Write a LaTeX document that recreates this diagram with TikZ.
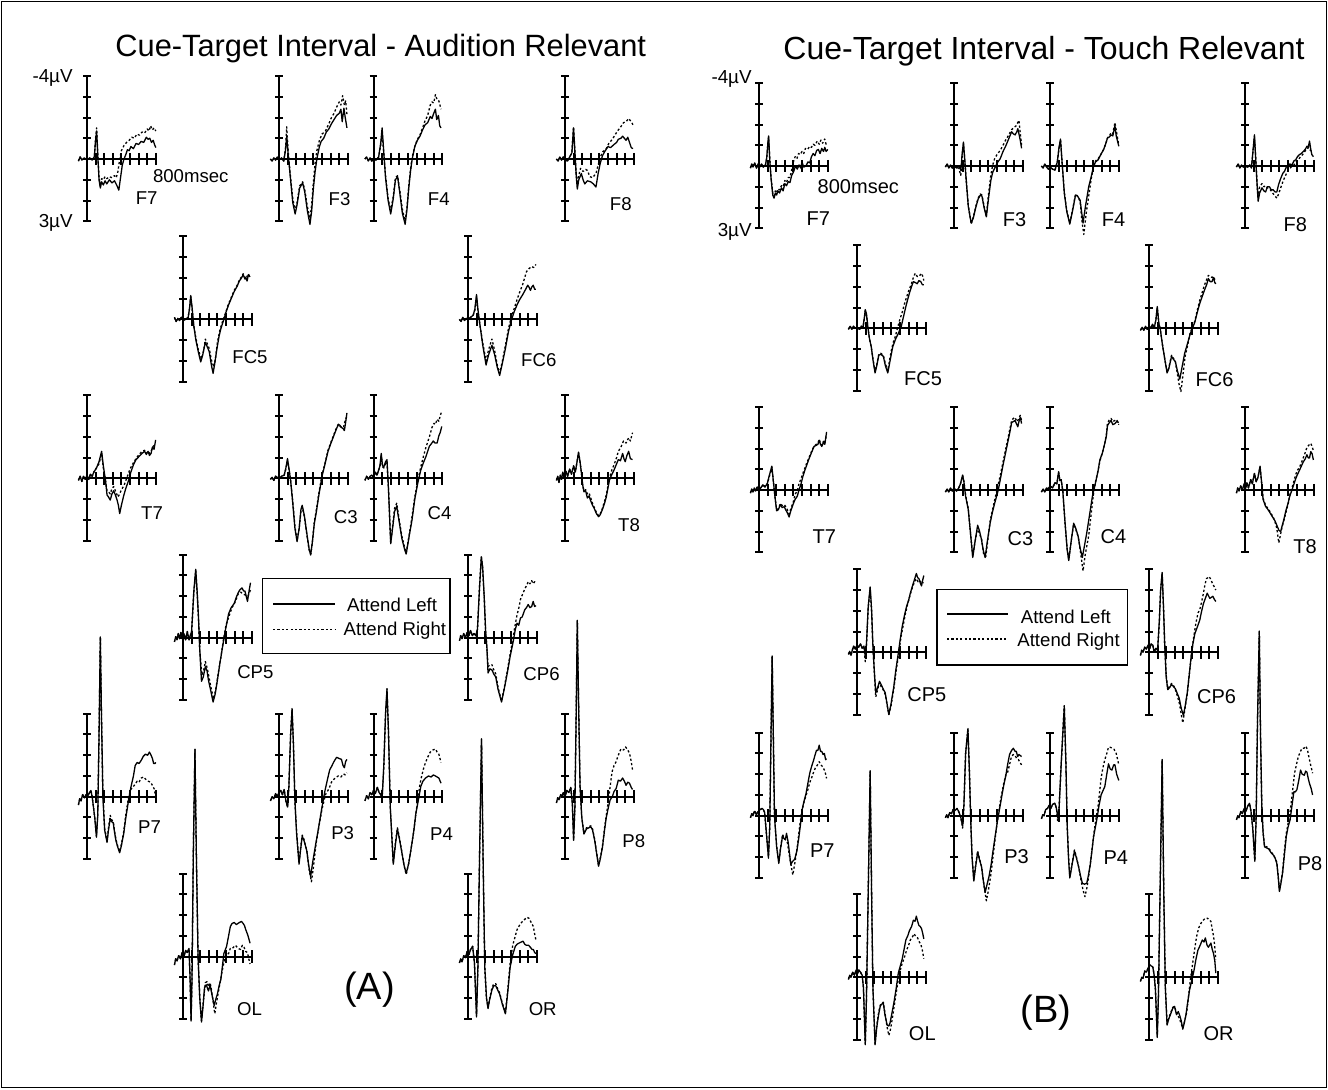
\documentclass[tikz,border=0pt]{standalone}
\usepackage{fontspec}
\setmainfont{Liberation Sans}

\tikzset{
  axisline/.style={line width=1pt},
  attleft/.style={line width=0.65pt, line join=round},
  attright/.style={line width=0.65pt, line join=round, dash pattern=on 1.1pt off 1.1pt},
  chanA/.style={inner sep=0pt, font=\fontsize{9.3}{10}\selectfont},
  chanB/.style={inner sep=0pt, font=\fontsize{10}{11}\selectfont},
  volt/.style={inner sep=0pt, anchor=base east, font=\fontsize{9.4}{10}\selectfont},
  keybox/.style={line width=0.7pt},
}

% one channel: axis origin, attend-left curve, attend-right curve
\newcommand{\erp}[4]{%
  \begin{scope}[shift={(#1,#2)}, xscale=8.6, yscale=20.75]
    \draw[axisline] (0,-4) -- (0,3);
    \foreach \vk in {-4,...,3}
      \draw[axisline] (-0.45,\vk) -- (0.45,\vk);
    \draw[axisline] (0,0) -- (8,0);
    \foreach \tk in {1,...,8}
      \draw[axisline] (\tk,-0.3) -- (\tk,0.3);
    \draw[attleft] plot coordinates {#3};
    \draw[attright] plot coordinates {#4};
  \end{scope}}

\begin{document}
\begin{tikzpicture}[x=0.5pt, y=-0.5pt]
\useasboundingbox (0,0) rectangle (1328,1089);
\draw[line width=0.8pt] (1.5,1.5) rectangle (1326.5,1087.5);

% ---------------- (A) audition relevant ----------------
\node[anchor=base west, inner sep=0pt, font=\fontsize{15.4}{17}\selectfont] (ttlA) at (115,56) {Cue-Target Interval - Audition Relevant};
\node[volt] (topA) at (73,82) {-4µV};
\node[volt] (botA) at (73,227) {3µV};
\node[chanA] (msA) at (190.8,175.8) {800msec};

% F7
\erp{87}{159}{(-1,0.1) (-0.8,-0.1) (-0.6,0.05) (-0.3,-0.05) (0,0.05) (0.3,-0.05) (0.6,0.05) (0.85,-0.1) (1.0,-0.9) (1.12,-1.35) (1.25,-0.2) (1.4,1.0) (1.55,1.4) (1.7,1.1) (1.9,1.25) (2.1,1.05) (2.3,1.2) (2.6,1.0) (2.9,1.15) (3.2,1.05) (3.5,1.3) (3.7,1.5) (3.9,0.9) (4.1,0.3) (4.3,0) (4.5,-0.2) (4.7,-0.45) (4.9,-0.4) (5.1,-0.6) (5.4,-0.5) (5.7,-0.75) (6.0,-0.7) (6.3,-0.85) (6.6,-0.8) (6.9,-1.05) (7.1,-0.95) (7.3,-1.0) (7.5,-0.8) (7.7,-0.9) (7.85,-0.7) (8.0,-0.55)}
{(-1,0.1) (-0.8,-0.1) (-0.6,0.05) (-0.3,-0.05) (0,0.05) (0.3,-0.05) (0.6,0.05) (0.85,-0.1) (1.0,-1.0) (1.12,-1.5) (1.25,-0.3) (1.4,0.9) (1.55,1.3) (1.7,0.95) (1.9,1.0) (2.1,0.85) (2.3,0.95) (2.6,0.85) (2.9,0.9) (3.2,0.8) (3.4,0.9) (3.6,0.6) (3.8,0.0) (4.0,-0.4) (4.3,-0.65) (4.6,-0.8) (4.9,-0.9) (5.2,-1.05) (5.5,-1.0) (5.8,-1.2) (6.1,-1.15) (6.4,-1.3) (6.7,-1.25) (7.0,-1.45) (7.2,-1.35) (7.4,-1.6) (7.6,-1.4) (7.8,-1.5) (8.0,-1.35)}
\node[chanA] (chF7a) at (146.7,198.3) {F7};

% F3
\erp{279}{159}{(-1,0) (-0.8,0.1) (-0.6,-0.05) (-0.4,0.05) (-0.2,-0.1) (0,0.05) (0.3,-0.05) (0.55,0.1) (0.75,-0.4) (0.9,-1.1) (1.05,-0.3) (1.3,0.8) (1.6,2.1) (1.88,2.65) (2.1,2.2) (2.4,1.4) (2.75,1.15) (3.0,1.6) (3.3,2.5) (3.6,3.15) (3.8,2.5) (4.0,1.4) (4.2,0.6) (4.4,0) (4.7,-0.6) (4.9,-0.85) (5.2,-1.0) (5.5,-1.3) (5.8,-1.45) (6.1,-1.7) (6.4,-1.9) (6.7,-2.1) (7.0,-2.2) (7.2,-2.4) (7.35,-1.8) (7.55,-2.45) (7.7,-2.0) (7.9,-1.5)}
{(-1,0) (-0.8,0.1) (-0.6,-0.05) (-0.4,0.05) (-0.2,-0.1) (0,0.05) (0.3,-0.05) (0.55,0.1) (0.75,-0.5) (0.9,-1.55) (1.05,-0.5) (1.3,0.7) (1.6,1.9) (1.88,2.5) (2.1,2.1) (2.4,1.3) (2.75,1.1) (3.0,1.5) (3.3,2.3) (3.6,2.85) (3.8,2.2) (4.0,1.1) (4.2,0.2) (4.4,-0.4) (4.7,-0.9) (5.0,-1.2) (5.4,-1.35) (5.8,-1.7) (6.1,-2.0) (6.4,-2.2) (6.7,-2.5) (7.0,-2.75) (7.2,-2.6) (7.4,-3.05) (7.6,-2.6) (7.75,-2.8) (7.9,-2.15)}
\node[chanA] (chF3a) at (339.6,199) {F3};

% F4
\erp{373.5}{159}{(-1,0) (-0.8,-0.1) (-0.6,0.1) (-0.4,-0.05) (-0.2,0.1) (0,0) (0.3,0.05) (0.6,-0.1) (0.85,-0.8) (1.0,-1.5) (1.15,-0.6) (1.4,0.9) (1.7,2.0) (2.0,2.65) (2.3,1.9) (2.55,1.0) (2.8,0.85) (3.05,1.6) (3.35,2.6) (3.68,3.15) (3.9,2.4) (4.1,1.4) (4.3,0.6) (4.5,0) (4.8,-0.6) (5.1,-0.9) (5.4,-1.1) (5.7,-1.4) (6.0,-1.65) (6.3,-1.75) (6.6,-2.05) (6.8,-1.95) (7.0,-2.2) (7.2,-2.4) (7.35,-1.9) (7.55,-2.1) (7.7,-1.6) (7.85,-1.5)}
{(-1,0) (-0.8,-0.1) (-0.6,0.1) (-0.4,-0.05) (-0.2,0.1) (0,0) (0.3,0.05) (0.6,-0.1) (0.85,-0.7) (1.0,-1.3) (1.15,-0.5) (1.4,0.8) (1.7,1.9) (2.0,2.5) (2.3,1.8) (2.55,0.9) (2.8,0.8) (3.05,1.5) (3.35,2.4) (3.68,3.0) (3.9,2.3) (4.1,1.3) (4.3,0.5) (4.5,-0.1) (4.8,-0.6) (5.1,-0.95) (5.4,-1.15) (5.7,-1.5) (6.0,-1.85) (6.3,-2.1) (6.6,-2.6) (6.8,-2.75) (7.0,-2.7) (7.2,-3.1) (7.4,-2.85) (7.6,-2.8) (7.85,-2.4)}
\node[chanA] (chF4a) at (438.8,199) {F4};

% F8
\erp{565}{159}{(-1,0) (-0.8,0.1) (-0.6,-0.1) (-0.4,0.05) (-0.2,-0.1) (0,0.05) (0.3,0.1) (0.55,-0.1) (0.8,-0.3) (0.99,-1.5) (1.15,-0.3) (1.3,0.8) (1.43,1.45) (1.6,1.0) (1.9,0.7) (2.1,1.0) (2.3,1.2) (2.6,1.05) (3.0,1.1) (3.3,1.2) (3.6,1.35) (3.85,0.7) (4.1,0.2) (4.35,-0.15) (4.6,-0.35) (5.0,-0.6) (5.3,-0.55) (5.7,-0.7) (6.0,-0.8) (6.2,-0.95) (6.5,-1.0) (6.7,-1.1) (6.9,-1.0) (7.1,-0.9) (7.3,-1.05) (7.5,-0.8) (7.7,-0.55) (7.9,-0.5)}
{(-1,0) (-0.8,0.1) (-0.6,-0.1) (-0.4,0.05) (-0.2,-0.1) (0,0.05) (0.3,0.1) (0.55,-0.1) (0.8,-0.3) (0.99,-1.55) (1.15,-0.4) (1.3,0.7) (1.43,1.2) (1.6,0.8) (1.8,0.45) (2.1,0.6) (2.4,0.5) (2.6,0.55) (2.9,0.85) (3.2,0.9) (3.6,0.7) (3.85,0.3) (4.1,-0.1) (4.4,-0.35) (4.8,-0.5) (5.1,-0.75) (5.5,-0.95) (5.8,-1.15) (6.1,-1.35) (6.4,-1.5) (6.8,-1.75) (7.1,-1.8) (7.4,-1.95) (7.7,-1.8) (7.9,-1.65)}
\node[chanA] (chF8a) at (620.8,204) {F8};

% FC5
\erp{183}{319.4}{(-1,-0.1) (-0.8,0.1) (-0.6,-0.05) (-0.4,0.05) (-0.2,-0.1) (0,0.05) (0.3,0) (0.6,-0.1) (0.75,-0.5) (0.9,-1.15) (1.05,-0.6) (1.25,0.3) (1.5,1.0) (1.8,1.6) (2.06,2.05) (2.3,1.7) (2.6,1.1) (2.8,1.3) (3.05,1.55) (3.3,2.2) (3.5,2.6) (3.7,2.1) (3.95,1.4) (4.2,0.8) (4.4,0.45) (4.75,0) (5.0,-0.35) (5.3,-0.7) (5.6,-1.0) (5.96,-1.35) (6.3,-1.6) (6.55,-1.85) (6.8,-2.0) (7.0,-2.15) (7.2,-1.95) (7.3,-2.0) (7.45,-1.85) (7.6,-2.15) (7.8,-2.05)}
{(-1,-0.1) (-0.8,0.1) (-0.6,-0.05) (-0.4,0.05) (-0.2,-0.1) (0,0.05) (0.3,0) (0.6,-0.1) (0.75,-0.5) (0.9,-1.1) (1.05,-0.55) (1.25,0.3) (1.5,0.9) (1.8,1.5) (2.15,1.9) (2.4,1.5) (2.6,0.95) (2.8,1.15) (3.05,1.4) (3.3,1.95) (3.6,2.3) (3.8,1.8) (4.0,1.1) (4.3,0.5) (4.6,0.1) (4.9,-0.25) (5.2,-0.65) (5.6,-1.05) (5.96,-1.4) (6.3,-1.65) (6.55,-1.9) (6.8,-2.05) (7.0,-2.2) (7.3,-1.95) (7.6,-2.2) (7.8,-2.0)}
\node[chanA] (chFC5a) at (250,357) {FC5};

% FC6
\erp{468}{319.4}{(-1,0) (-0.8,0.1) (-0.6,-0.1) (-0.4,0.05) (-0.2,-0.05) (0,0) (0.3,-0.1) (0.6,-0.2) (0.8,-0.5) (0.99,-1.2) (1.15,-0.5) (1.4,0.3) (1.7,1.2) (2.1,2.2) (2.4,1.7) (2.78,1.25) (3.1,1.7) (3.4,2.3) (3.68,2.7) (4.0,2.1) (4.35,1.4) (4.7,0.6) (5.0,0.1) (5.35,-0.35) (5.7,-0.7) (6.0,-0.95) (6.37,-1.2) (6.7,-1.45) (6.95,-1.65) (7.1,-1.55) (7.26,-1.4) (7.4,-1.55) (7.58,-1.65) (7.75,-1.45) (7.9,-1.45)}
{(-1,0) (-0.8,0.1) (-0.6,-0.1) (-0.4,0.05) (-0.2,-0.05) (0,0) (0.3,-0.1) (0.6,-0.2) (0.8,-0.45) (0.99,-1.1) (1.15,-0.4) (1.4,0.3) (1.7,1.1) (2.1,2.0) (2.4,1.45) (2.78,0.95) (3.1,1.5) (3.4,2.2) (3.68,2.6) (4.0,2.0) (4.35,1.25) (4.7,0.45) (5.0,-0.05) (5.35,-0.5) (5.7,-0.95) (6.0,-1.3) (6.37,-1.7) (6.8,-2.3) (7.1,-2.45) (7.4,-2.55) (7.65,-2.5) (7.9,-2.65)}
\node[chanA] (chFC6a) at (538.8,359.7) {FC6};

% T7
\erp{87}{478.3}{(-1,0.1) (-0.8,-0.1) (-0.6,0.15) (-0.4,-0.1) (-0.2,0.05) (0,-0.15) (0.2,0.05) (0.4,-0.2) (0.6,-0.1) (0.8,-0.3) (1.1,-0.5) (1.4,-0.8) (1.7,-1.3) (1.9,-0.6) (2.15,0.1) (2.33,0.8) (2.5,0.9) (2.7,1.05) (2.9,0.75) (3.1,0.6) (3.3,0.8) (3.5,1.05) (3.65,1.3) (3.8,1.7) (4.0,1.3) (4.26,0.85) (4.5,0.5) (4.84,0.1) (5.1,-0.3) (5.4,-0.65) (5.7,-0.9) (6.05,-1.05) (6.4,-1.2) (6.7,-1.3) (6.9,-1.15) (7.1,-1.3) (7.26,-1.1) (7.45,-1.2) (7.6,-1.5) (7.8,-1.4) (7.98,-1.85)}
{(-1,0.1) (-0.8,-0.1) (-0.6,0.15) (-0.4,-0.1) (-0.2,0.05) (0,-0.15) (0.2,0.05) (0.4,-0.2) (0.6,-0.1) (0.8,-0.3) (1.1,-0.5) (1.4,-0.7) (1.7,-1.2) (1.9,-0.5) (2.15,0.1) (2.33,0.6) (2.5,0.65) (2.7,0.75) (2.9,0.5) (3.1,0.4) (3.3,0.6) (3.6,0.9) (3.8,0.75) (4.0,0.55) (4.3,0.35) (4.7,-0.1) (5.0,-0.45) (5.4,-0.75) (5.7,-0.95) (6.05,-1.15) (6.4,-1.3) (6.7,-1.35) (6.9,-1.2) (7.1,-1.3) (7.3,-1.2) (7.5,-1.35) (7.7,-1.55) (7.9,-1.6)}
\node[chanA] (chT7a) at (152,513) {T7};

% C3
\erp{279}{478.3}{(-1,0.05) (-0.8,-0.05) (-0.6,0.1) (-0.4,-0.1) (-0.2,-0.05) (0,0.05) (0.3,-0.1) (0.6,-0.15) (0.8,-0.5) (0.99,-0.95) (1.15,-0.5) (1.35,0.1) (1.6,1.2) (1.85,2.4) (2.1,3.05) (2.35,2.4) (2.55,1.5) (2.7,1.3) (2.95,1.8) (3.25,2.7) (3.5,3.4) (3.68,3.7) (3.9,3.0) (4.1,2.2) (4.35,1.6) (4.6,0.9) (5.0,-0.1) (5.3,-0.6) (5.7,-1.3) (6.0,-1.65) (6.37,-2.05) (6.6,-2.3) (6.9,-2.6) (7.1,-2.55) (7.26,-2.45) (7.45,-2.4) (7.6,-2.3) (7.75,-2.7) (7.9,-3.15)}
{(-1,0.05) (-0.8,-0.05) (-0.6,0.1) (-0.4,-0.1) (-0.2,-0.05) (0,0.05) (0.3,-0.1) (0.6,-0.15) (0.8,-0.45) (0.99,-0.85) (1.15,-0.45) (1.35,0.1) (1.6,1.1) (1.85,2.3) (2.1,3.0) (2.35,2.4) (2.55,1.6) (2.7,1.4) (2.95,1.85) (3.25,2.75) (3.5,3.45) (3.7,3.65) (3.9,3.0) (4.1,2.1) (4.35,1.5) (4.6,0.8) (5.0,-0.15) (5.3,-0.65) (5.7,-1.35) (6.0,-1.7) (6.37,-2.1) (6.6,-2.35) (6.9,-2.6) (7.1,-2.5) (7.3,-2.45) (7.5,-2.45) (7.7,-2.8) (7.9,-3.0)}
\node[chanA] (chC3a) at (345.8,516.7) {C3};

% C4
\erp{373.5}{478.3}{(-1,0.1) (-0.8,-0.1) (-0.6,0.05) (-0.4,-0.1) (-0.2,-0.15) (0,-0.05) (0.2,-0.3) (0.4,-0.15) (0.6,-0.4) (0.75,-0.6) (0.9,-1.2) (1.05,-0.6) (1.2,-0.55) (1.4,-0.8) (1.57,-0.9) (1.75,0.6) (2.0,3.15) (2.25,2.3) (2.45,1.6) (2.7,1.35) (2.95,2.0) (3.3,2.9) (3.6,3.4) (3.8,3.65) (4.1,2.9) (4.48,2.0) (4.8,1.0) (5.16,0.2) (5.5,-0.4) (5.8,-0.75) (6.1,-1.05) (6.5,-1.55) (6.7,-1.65) (6.95,-1.8) (7.15,-1.7) (7.4,-1.7) (7.6,-2.05) (7.75,-2.2) (7.94,-2.5)}
{(-1,0.1) (-0.8,-0.1) (-0.6,0.05) (-0.4,-0.1) (-0.2,-0.15) (0,-0.05) (0.2,-0.3) (0.4,-0.15) (0.6,-0.4) (0.75,-0.55) (0.9,-1.1) (1.05,-0.55) (1.2,-0.5) (1.4,-0.7) (1.57,-0.8) (1.75,0.6) (2.0,3.1) (2.25,2.2) (2.45,1.45) (2.7,1.2) (2.95,1.9) (3.3,2.8) (3.6,3.3) (3.8,3.6) (4.1,2.85) (4.48,1.85) (4.8,0.9) (5.16,0.1) (5.5,-0.55) (5.8,-1.05) (6.1,-1.5) (6.5,-2.0) (6.8,-2.45) (7.04,-2.65) (7.2,-2.6) (7.4,-2.85) (7.6,-2.75) (7.75,-3.0) (7.94,-3.25)}
\node[chanA] (chC4a) at (439.6,513) {C4};

% T8
\erp{565}{478.3}{(-1,0.1) (-0.85,-0.1) (-0.7,0.2) (-0.55,-0.15) (-0.4,0.05) (-0.25,-0.3) (-0.1,0.0) (0.1,-0.35) (0.3,-0.1) (0.54,-0.45) (0.75,-0.2) (1.0,-0.6) (1.2,-0.3) (1.4,-0.8) (1.57,-1.25) (1.75,-0.8) (1.9,-0.3) (2.05,0.3) (2.2,0.65) (2.4,0.6) (2.6,0.95) (2.8,0.85) (3.0,1.1) (3.2,1.3) (3.4,1.45) (3.65,1.7) (3.9,1.85) (4.1,1.75) (4.35,1.5) (4.6,1.2) (4.8,0.9) (5.0,0.45) (5.16,0.1) (5.4,-0.15) (5.7,-0.4) (6.0,-0.7) (6.2,-0.9) (6.45,-0.85) (6.7,-1.2) (6.85,-0.95) (7.0,-0.8) (7.2,-1.1) (7.4,-1.3) (7.6,-0.95) (7.85,-0.9)}
{(-1,0.1) (-0.85,-0.1) (-0.7,0.2) (-0.55,-0.15) (-0.4,0.05) (-0.25,-0.3) (-0.1,0.0) (0.1,-0.35) (0.3,-0.1) (0.54,-0.45) (0.75,-0.2) (1.0,-0.6) (1.2,-0.3) (1.4,-0.8) (1.57,-1.25) (1.75,-0.8) (1.9,-0.3) (2.05,0.3) (2.2,0.6) (2.4,0.55) (2.6,0.75) (2.8,0.7) (3.0,0.95) (3.2,1.2) (3.4,1.4) (3.65,1.65) (3.9,1.8) (4.1,1.7) (4.35,1.45) (4.6,1.1) (4.8,0.8) (5.0,0.35) (5.2,-0.05) (5.45,-0.4) (5.7,-0.65) (6.0,-1.0) (6.2,-1.3) (6.5,-1.5) (6.8,-1.8) (7.1,-1.7) (7.4,-1.95) (7.6,-1.8) (7.85,-2.2)}
\node[chanA] (chT8a) at (629,525) {T8};

% CP5
\erp{183}{637.7}{(-1,0.2) (-0.85,-0.05) (-0.7,0.1) (-0.55,-0.2) (-0.4,0.05) (-0.25,-0.25) (-0.1,0.05) (0.1,-0.2) (0.3,0.1) (0.5,-0.3) (0.7,0.1) (0.85,-0.1) (1.0,-0.3) (1.25,-2.2) (1.48,-3.3) (1.65,-2.2) (1.8,-1.0) (1.95,0.6) (2.15,2.1) (2.35,1.9) (2.6,1.4) (2.8,1.6) (2.96,2.05) (3.2,2.5) (3.5,3.1) (3.75,2.7) (4.0,2.05) (4.3,1.2) (4.6,0.45) (4.9,-0.3) (5.3,-1.15) (5.6,-1.45) (5.96,-1.65) (6.2,-1.95) (6.4,-2.15) (6.6,-2.3) (6.86,-2.4) (7.05,-2.25) (7.2,-2.25) (7.35,-2.0) (7.5,-1.75) (7.7,-2.3) (7.85,-2.65)}
{(-1,0.2) (-0.85,-0.05) (-0.7,0.1) (-0.55,-0.2) (-0.4,0.05) (-0.25,-0.25) (-0.1,0.05) (0.1,-0.2) (0.3,0.1) (0.5,-0.3) (0.7,0.1) (0.85,-0.1) (1.0,-0.3) (1.25,-2.1) (1.48,-3.25) (1.65,-2.1) (1.8,-0.9) (1.95,0.6) (2.2,1.8) (2.4,1.6) (2.6,1.15) (2.8,1.45) (3.0,1.85) (3.2,2.3) (3.55,2.95) (3.8,2.5) (4.1,1.7) (4.4,0.95) (4.7,0.1) (5.0,-0.6) (5.4,-1.1) (5.7,-1.45) (6.1,-1.75) (6.4,-2.1) (6.7,-2.2) (7.0,-2.1) (7.3,-2.05) (7.55,-2.0) (7.85,-2.3)}
\node[chanA] (chCP5a) at (255.4,672) {CP5};

% CP6
\erp{468}{637.7}{(-1,0.15) (-0.85,-0.1) (-0.7,0.05) (-0.5,-0.2) (-0.3,0.0) (-0.1,-0.25) (0.1,-0.1) (0.3,-0.35) (0.5,-0.1) (0.7,-0.2) (0.9,-0.1) (1.1,-0.4) (1.35,-2.5) (1.55,-3.9) (1.7,-3.4) (1.88,-2.0) (2.05,-0.3) (2.2,0.5) (2.33,1.7) (2.55,1.5) (2.78,1.55) (3.0,1.75) (3.23,1.9) (3.5,2.5) (3.9,3.1) (4.2,2.5) (4.57,1.7) (4.9,0.9) (5.25,0.2) (5.5,-0.4) (5.7,-0.7) (5.9,-0.6) (6.1,-0.95) (6.3,-1.0) (6.6,-1.35) (6.8,-1.45) (7.0,-1.6) (7.2,-1.45) (7.4,-1.5) (7.58,-1.75) (7.75,-1.5) (7.9,-1.55)}
{(-1,0.15) (-0.85,-0.1) (-0.7,0.05) (-0.5,-0.2) (-0.3,0.0) (-0.1,-0.25) (0.1,-0.1) (0.3,-0.35) (0.5,-0.1) (0.7,-0.2) (0.9,-0.1) (1.1,-0.4) (1.35,-2.5) (1.55,-3.9) (1.7,-3.4) (1.88,-2.0) (2.05,-0.3) (2.2,0.5) (2.33,1.4) (2.55,1.3) (2.78,1.3) (3.0,1.55) (3.23,1.75) (3.5,2.4) (3.9,3.05) (4.2,2.45) (4.57,1.6) (4.9,0.8) (5.25,-0.05) (5.5,-0.65) (5.7,-1.1) (5.95,-1.5) (6.1,-1.85) (6.35,-2.1) (6.6,-2.35) (6.85,-2.55) (7.0,-2.7) (7.2,-2.6) (7.4,-2.75) (7.6,-2.6) (7.75,-2.7) (7.9,-2.6)}
\node[chanA] (chCP6a) at (541.5,674) {CP6};

% P7
\erp{87}{796.7}{(-1,0.4) (-0.85,0.1) (-0.7,0.2) (-0.5,-0.1) (-0.3,0.05) (-0.1,-0.1) (0.1,-0.05) (0.3,-0.2) (0.45,-0.3) (0.6,0.0) (0.75,0.5) (0.9,1.0) (1.1,1.95) (1.25,0.9) (1.4,-3.0) (1.55,-7.7) (1.68,-4.0) (1.85,0.0) (2.05,1.6) (2.33,2.2) (2.5,1.6) (2.7,1.05) (2.85,1.2) (3.05,1.25) (3.2,1.7) (3.36,2.1) (3.55,2.4) (3.8,2.7) (4.0,2.35) (4.26,1.8) (4.5,1.05) (4.84,0.15) (5.1,-0.45) (5.4,-1.0) (5.6,-1.5) (5.83,-1.65) (6.05,-1.6) (6.3,-1.75) (6.55,-1.95) (6.8,-2.05) (7.05,-2.0) (7.26,-2.15) (7.45,-2.0) (7.6,-1.85) (7.75,-1.6) (7.9,-1.6) (8.0,-1.65)}
{(-1,0.4) (-0.85,0.1) (-0.7,0.2) (-0.5,-0.1) (-0.3,0.05) (-0.1,-0.1) (0.1,-0.05) (0.3,-0.2) (0.45,-0.3) (0.6,0.0) (0.75,0.5) (0.9,1.0) (1.1,1.9) (1.25,0.9) (1.4,-3.0) (1.55,-7.7) (1.68,-4.0) (1.85,0.0) (2.05,1.5) (2.33,2.15) (2.5,1.5) (2.7,0.9) (2.85,1.1) (3.05,1.2) (3.2,1.65) (3.36,2.05) (3.55,2.35) (3.8,2.65) (4.0,2.3) (4.26,1.7) (4.5,0.9) (4.84,0.0) (5.1,-0.35) (5.4,-0.5) (5.6,-0.6) (5.83,-0.75) (6.05,-0.7) (6.3,-0.9) (6.6,-0.95) (6.8,-0.85) (7.1,-0.75) (7.4,-0.7) (7.6,-0.55) (7.85,-0.35) (8.0,0.15)}
\node[chanA] (chP7a) at (149.6,826.7) {P7};

% P3
\erp{279}{796.7}{(-1,0.2) (-0.8,0.0) (-0.6,0.1) (-0.4,-0.15) (-0.2,0.0) (0,-0.2) (0.2,-0.3) (0.4,-0.1) (0.6,-0.35) (0.8,0.2) (1.0,0.5) (1.15,-0.5) (1.35,-3.0) (1.52,-4.25) (1.68,-2.5) (1.85,0.2) (2.05,1.8) (2.33,3.25) (2.5,2.6) (2.7,1.9) (2.9,2.1) (3.23,2.6) (3.45,3.3) (3.68,3.85) (3.9,3.2) (4.2,2.45) (4.6,1.5) (5.0,0.5) (5.35,-0.3) (5.7,-0.95) (5.9,-1.3) (6.1,-1.45) (6.4,-1.7) (6.7,-1.9) (6.95,-1.85) (7.26,-1.8) (7.45,-1.5) (7.6,-1.4) (7.75,-1.7) (7.9,-1.8)}
{(-1,0.2) (-0.8,0.0) (-0.6,0.1) (-0.4,-0.15) (-0.2,0.0) (0,-0.2) (0.2,-0.3) (0.4,-0.1) (0.6,-0.35) (0.8,0.2) (1.0,0.5) (1.15,-0.5) (1.35,-3.0) (1.52,-4.2) (1.68,-2.5) (1.85,0.2) (2.05,1.7) (2.33,3.2) (2.5,2.5) (2.7,1.85) (2.9,2.05) (3.23,2.6) (3.5,3.5) (3.77,4.1) (4.0,3.4) (4.3,2.3) (4.65,1.4) (5.0,0.6) (5.4,-0.1) (5.83,-0.4) (6.1,-0.7) (6.4,-0.85) (6.7,-0.95) (6.9,-1.0) (7.2,-0.95) (7.5,-1.1) (7.7,-1.05) (7.9,-1.15)}
\node[chanA] (chP3a) at (342.7,832.7) {P3};

% P4
\erp{373.5}{796.7}{(-1,0.2) (-0.8,-0.05) (-0.6,0.1) (-0.4,-0.2) (-0.2,-0.1) (0,-0.3) (0.2,-0.15) (0.45,-0.45) (0.65,-0.2) (0.85,-0.1) (1.0,0.1) (1.2,-1.5) (1.4,-4.0) (1.57,-5.2) (1.75,-3.0) (1.95,0.5) (2.3,3.25) (2.55,2.3) (2.78,1.55) (3.0,2.0) (3.3,2.7) (3.55,3.3) (3.8,3.7) (4.1,3.2) (4.45,2.3) (4.7,1.6) (4.93,0.8) (5.2,0.2) (5.5,-0.5) (5.75,-0.75) (6.05,-0.9) (6.4,-1.0) (6.7,-0.95) (6.95,-1.05) (7.2,-1.0) (7.4,-0.95) (7.6,-0.9) (7.85,-0.65)}
{(-1,0.2) (-0.8,-0.05) (-0.6,0.1) (-0.4,-0.2) (-0.2,-0.1) (0,-0.3) (0.2,-0.15) (0.45,-0.45) (0.65,-0.2) (0.85,-0.1) (1.0,0.1) (1.2,-1.5) (1.4,-4.0) (1.57,-5.2) (1.75,-3.0) (1.95,0.5) (2.3,3.2) (2.55,2.2) (2.78,1.5) (3.0,1.95) (3.3,2.65) (3.55,3.3) (3.8,3.75) (4.1,3.2) (4.45,2.3) (4.7,1.6) (4.93,0.8) (5.2,0.0) (5.4,-0.6) (5.6,-1.0) (5.85,-1.4) (6.05,-1.65) (6.3,-1.9) (6.6,-2.15) (6.9,-2.25) (7.2,-2.3) (7.4,-2.15) (7.6,-2.05) (7.85,-1.65)}
\node[chanA] (chP4a) at (441.5,834) {P4};

% P8
\erp{565}{796.7}{(-1,0.3) (-0.85,0.05) (-0.7,0.15) (-0.5,-0.1) (-0.35,0.0) (-0.2,-0.2) (0,0.0) (0.2,-0.3) (0.45,-0.2) (0.67,-0.45) (0.85,0.3) (1.0,2.1) (1.15,0.5) (1.3,-4.0) (1.43,-8.5) (1.58,-4.5) (1.75,-0.5) (1.95,1.0) (2.2,1.8) (2.5,1.55) (2.75,1.5) (3.0,1.45) (3.2,1.6) (3.45,2.1) (3.7,2.8) (3.9,3.35) (4.1,3.0) (4.35,2.45) (4.6,1.6) (4.8,1.0) (5.05,0.5) (5.25,0.15) (5.5,0.0) (5.7,-0.25) (5.95,-0.4) (6.2,-0.8) (6.45,-0.75) (6.7,-0.9) (6.9,-0.75) (7.1,-0.55) (7.3,-0.7) (7.5,-0.65) (7.7,-0.45) (7.85,-0.35)}
{(-1,0.3) (-0.85,0.05) (-0.7,0.15) (-0.5,-0.1) (-0.35,0.0) (-0.2,-0.2) (0,0.0) (0.2,-0.3) (0.45,-0.2) (0.67,-0.45) (0.85,0.3) (1.0,2.05) (1.15,0.5) (1.3,-4.0) (1.43,-8.5) (1.58,-4.5) (1.75,-0.5) (1.95,1.0) (2.2,1.75) (2.5,1.5) (2.75,1.45) (3.0,1.4) (3.2,1.55) (3.45,2.05) (3.7,2.75) (3.9,3.3) (4.1,2.95) (4.35,2.4) (4.6,1.5) (4.8,0.9) (5.05,0.2) (5.25,-0.5) (5.47,-1.2) (5.7,-1.5) (5.9,-1.65) (6.2,-2.0) (6.5,-2.3) (6.8,-2.25) (7.04,-2.4) (7.3,-2.25) (7.5,-2.1) (7.7,-1.7) (7.85,-1.3)}
\node[chanA] (chP8a) at (633.8,840.7) {P8};

% OL
\erp{183}{956.7}{(-1,0.4) (-0.85,0.1) (-0.7,0.2) (-0.5,-0.05) (-0.3,0.1) (-0.1,-0.2) (0.1,0.0) (0.3,-0.3) (0.5,-0.2) (0.7,-0.4) (0.82,1.0) (0.94,3.1) (1.05,1.0) (1.2,-5.0) (1.39,-10.0) (1.55,-5.0) (1.75,0.0) (1.95,2.0) (2.15,3.15) (2.35,2.3) (2.5,1.5) (2.7,1.35) (2.96,1.65) (3.15,1.35) (3.35,1.8) (3.63,2.35) (3.85,2.0) (4.0,1.8) (4.2,1.4) (4.4,1.1) (4.6,0.4) (4.75,-0.15) (5.07,-0.5) (5.3,-1.0) (5.5,-1.45) (5.7,-1.6) (5.96,-1.65) (6.2,-1.55) (6.55,-1.65) (6.8,-1.7) (7.0,-1.6) (7.15,-1.5) (7.3,-1.3) (7.53,-1.05) (7.8,-0.65)}
{(-1,0.4) (-0.85,0.1) (-0.7,0.2) (-0.5,-0.05) (-0.3,0.1) (-0.1,-0.2) (0.1,0.0) (0.3,-0.3) (0.5,-0.2) (0.7,-0.4) (0.82,1.0) (0.94,3.05) (1.05,1.0) (1.2,-5.0) (1.39,-10.0) (1.55,-5.0) (1.75,0.0) (1.95,2.0) (2.15,3.1) (2.35,2.2) (2.6,1.25) (2.8,1.2) (2.96,1.45) (3.15,1.25) (3.35,1.7) (3.7,2.75) (3.9,2.2) (4.2,1.5) (4.5,0.8) (4.75,0.3) (5.0,-0.1) (5.3,-0.15) (5.5,-0.4) (5.74,-0.4) (6.1,-0.55) (6.4,-0.4) (6.7,-0.35) (6.9,-0.55) (7.1,-0.45) (7.3,-0.25) (7.5,-0.2) (7.65,0.1) (7.8,0.35)}
\node[chanA] (chOLa) at (249.6,1009) {OL};

% OR
\erp{468}{956.7}{(-1,0.3) (-0.85,0.1) (-0.7,0.25) (-0.5,-0.05) (-0.3,0.05) (-0.1,-0.25) (0.1,-0.1) (0.3,-0.35) (0.54,-0.5) (0.75,0.3) (0.99,2.9) (1.15,0.5) (1.35,-5.0) (1.57,-10.5) (1.78,-4.0) (1.95,0.5) (2.15,2.0) (2.33,2.5) (2.5,2.1) (2.78,1.6) (3.0,1.4) (3.23,1.4) (3.45,1.6) (3.68,1.8) (4.0,2.3) (4.35,2.75) (4.6,1.8) (4.9,0.5) (5.2,-0.1) (5.5,-0.5) (5.7,-0.6) (5.9,-0.65) (6.15,-0.7) (6.4,-0.75) (6.6,-0.6) (6.8,-0.55) (7.05,-0.55) (7.26,-0.45) (7.45,-0.35) (7.6,-0.35) (7.75,-0.2) (7.9,-0.15)}
{(-1,0.3) (-0.85,0.1) (-0.7,0.25) (-0.5,-0.05) (-0.3,0.05) (-0.1,-0.25) (0.1,-0.1) (0.3,-0.35) (0.54,-0.5) (0.75,0.3) (0.99,2.85) (1.15,0.5) (1.35,-5.0) (1.57,-10.5) (1.78,-4.0) (1.95,0.5) (2.15,2.0) (2.33,2.45) (2.5,2.05) (2.78,1.5) (3.0,1.3) (3.23,1.3) (3.45,1.55) (3.68,1.75) (4.0,2.25) (4.35,2.7) (4.6,1.7) (4.9,0.3) (5.2,-0.55) (5.5,-1.0) (5.7,-1.3) (5.9,-1.45) (6.1,-1.6) (6.35,-1.7) (6.6,-1.8) (6.85,-1.9) (7.1,-1.85) (7.35,-1.65) (7.6,-1.45) (7.75,-1.1) (7.9,-0.8)}
\node[chanA] (chORa) at (542.7,1009) {OR};

% key A
\draw[keybox] (262.5,578.5) rectangle (450,653.5);
\coordinate (kA1) at (273,604);
\coordinate (kA2) at (335,604);
\coordinate (kA3) at (273,629.5);
\coordinate (kA4) at (335,629.5);
\draw[attleft] (kA1) -- (kA2);
\draw[attright] (kA3) -- (kA4);
\node[chanA, anchor=base west] (keyLa) at (346.7,611.5) {Attend Left};
\node[chanA, anchor=base west] (keyRa) at (343.3,635.5) {Attend Right};

\node[inner sep=0pt, font=\fontsize{19}{21}\selectfont] (tagA) at (369.6,990) {(A)};

% ---------------- (B) touch relevant ----------------
\node[anchor=base west, inner sep=0pt, font=\fontsize{16}{18}\selectfont] (ttlB) at (783,59) {Cue-Target Interval - Touch Relevant};
\node[volt] (topB) at (752,83.5) {-4µV};
\node[volt] (botB) at (752,236) {3µV};
\node[chanB] (msB) at (858.3,186.7) {800msec};

% F7
\erp{759}{166}{(-1,0.1) (-0.85,-0.1) (-0.7,0.05) (-0.5,-0.15) (-0.3,0.1) (-0.1,-0.1) (0.1,0.05) (0.3,-0.1) (0.5,0.05) (0.75,-0.05) (0.9,-0.4) (1.05,-1.2) (1.12,-1.45) (1.25,-0.3) (1.4,0.6) (1.6,1.4) (1.75,1.55) (1.9,1.3) (2.05,1.4) (2.2,1.2) (2.4,1.3) (2.6,1.05) (2.8,1.2) (3.0,0.85) (3.2,0.95) (3.4,0.75) (3.6,0.8) (3.8,0.45) (4.0,0.3) (4.24,0.0) (4.45,0.15) (4.65,-0.05) (4.85,0.1) (5.0,-0.2) (5.2,0.05) (5.46,0.0) (5.7,-0.2) (5.9,-0.15) (6.1,-0.45) (6.3,-0.6) (6.5,-0.5) (6.7,-0.75) (6.9,-0.8) (7.1,-0.6) (7.3,-0.85) (7.5,-0.7) (7.65,-0.9) (7.8,-0.7) (8.0,-0.8)}
{(-1,0.1) (-0.85,-0.1) (-0.7,0.05) (-0.5,-0.15) (-0.3,0.1) (-0.1,-0.1) (0.1,0.05) (0.3,-0.1) (0.5,0.05) (0.75,-0.05) (0.9,-0.4) (1.05,-1.15) (1.12,-1.4) (1.25,-0.3) (1.4,0.55) (1.6,1.3) (1.75,1.45) (1.9,1.2) (2.05,1.3) (2.2,1.1) (2.4,1.15) (2.6,0.95) (2.8,1.0) (3.0,0.7) (3.2,0.8) (3.4,0.55) (3.6,0.55) (3.8,0.2) (4.0,-0.2) (4.2,-0.45) (4.4,-0.35) (4.6,-0.6) (4.8,-0.55) (5.0,-0.7) (5.2,-0.6) (5.4,-0.85) (5.65,-0.8) (5.9,-0.95) (6.1,-0.9) (6.3,-1.05) (6.5,-1.0) (6.77,-1.2) (7.0,-1.05) (7.2,-1.25) (7.4,-1.1) (7.64,-1.3) (7.8,-1.05) (8.0,-1.1)}
\node[chanB] (chF7b) at (818.3,218.8) {F7};

% F3
\erp{954}{166}{(-1,0.05) (-0.8,-0.1) (-0.6,0.1) (-0.4,-0.05) (-0.2,0.1) (0,0.0) (0.3,0.1) (0.55,0.0) (0.8,0.2) (0.95,-0.6) (1.1,-1.15) (1.25,-0.3) (1.4,0.6) (1.66,1.95) (2.0,2.75) (2.25,2.5) (2.53,2.0) (2.8,1.6) (3.06,1.4) (3.25,1.45) (3.5,2.0) (3.76,2.45) (4.0,1.6) (4.28,0.7) (4.5,0.3) (4.8,0.05) (5.1,-0.2) (5.37,-0.35) (5.7,-0.7) (6.0,-0.95) (6.3,-1.25) (6.5,-1.45) (6.7,-1.65) (6.9,-1.55) (7.1,-1.5) (7.3,-1.65) (7.42,-1.8) (7.55,-1.55) (7.7,-1.25) (7.86,-0.85)}
{(-1,0.05) (-0.8,-0.1) (-0.6,0.1) (-0.4,-0.05) (-0.2,0.1) (0,0.0) (0.3,0.1) (0.55,0.1) (0.79,0.45) (0.95,-0.5) (1.1,-1.1) (1.25,-0.3) (1.4,0.55) (1.66,1.9) (2.0,2.8) (2.25,2.45) (2.53,1.95) (2.8,1.55) (3.06,1.35) (3.25,1.4) (3.5,1.95) (3.76,2.4) (4.0,1.4) (4.28,0.45) (4.5,-0.05) (4.72,-0.35) (5.0,-0.55) (5.37,-0.75) (5.7,-1.0) (6.0,-1.25) (6.3,-1.45) (6.5,-1.6) (6.7,-1.75) (6.95,-1.85) (7.26,-1.95) (7.42,-2.1) (7.55,-2.2) (7.7,-1.6) (7.86,-1.0)}
\node[chanB] (chF3b) at (1014.6,219.3) {F3};

% F4
\erp{1050}{166}{(-1,0.0) (-0.8,0.1) (-0.6,-0.1) (-0.4,0.05) (-0.2,0.15) (0,0.05) (0.3,0.15) (0.57,0.2) (0.85,-0.2) (1.05,-0.9) (1.22,-1.3) (1.4,-0.2) (1.66,1.3) (1.95,2.2) (2.3,2.8) (2.6,2.2) (2.97,1.4) (3.2,1.45) (3.5,1.65) (3.84,2.75) (4.1,2.0) (4.5,1.0) (4.8,0.5) (5.07,0.0) (5.3,-0.2) (5.6,-0.3) (5.9,-0.55) (6.24,-0.8) (6.5,-1.1) (6.68,-1.35) (6.9,-1.4) (7.1,-1.5) (7.3,-1.45) (7.55,-1.95) (7.7,-1.45) (7.85,-1.2) (8.0,-0.95)}
{(-1,0.0) (-0.8,0.1) (-0.6,-0.1) (-0.4,0.05) (-0.2,0.15) (0,0.05) (0.3,0.15) (0.57,0.2) (0.85,-0.2) (1.05,-0.85) (1.22,-1.25) (1.4,-0.2) (1.66,1.25) (1.95,2.15) (2.3,2.75) (2.6,2.15) (2.97,1.35) (3.2,1.45) (3.5,1.7) (3.7,2.6) (3.93,3.3) (4.2,2.3) (4.5,1.45) (4.8,0.6) (5.07,0.05) (5.3,-0.25) (5.6,-0.35) (5.9,-0.55) (6.24,-0.8) (6.5,-1.1) (6.68,-1.35) (6.9,-1.45) (7.1,-1.6) (7.3,-1.55) (7.55,-2.1) (7.75,-1.6) (8.0,-1.0)}
\node[chanB] (chF4b) at (1113.5,219.3) {F4};

% F8
\erp{1245}{166}{(-1,0.05) (-0.8,-0.1) (-0.6,0.1) (-0.4,-0.05) (-0.2,0.05) (0,0.0) (0.3,0.05) (0.55,-0.05) (0.75,0.1) (0.9,-0.6) (1.1,-1.5) (1.25,-0.3) (1.4,0.9) (1.53,1.7) (1.7,1.3) (1.97,1.05) (2.2,1.2) (2.4,1.25) (2.6,1.0) (2.84,1.0) (3.05,1.15) (3.28,1.15) (3.5,1.25) (3.7,1.25) (3.9,0.9) (4.15,0.6) (4.4,0.35) (4.6,0.25) (4.8,0.05) (5.0,0.0) (5.2,-0.1) (5.46,-0.05) (5.7,-0.25) (5.9,-0.3) (6.1,-0.45) (6.33,-0.55) (6.55,-0.6) (6.77,-0.7) (7.0,-0.8) (7.2,-0.95) (7.35,-0.9) (7.5,-1.2) (7.65,-0.8) (7.77,-0.55) (7.95,-0.45)}
{(-1,0.05) (-0.8,-0.1) (-0.6,0.1) (-0.4,-0.05) (-0.2,0.05) (0,0.0) (0.3,0.05) (0.55,-0.05) (0.75,0.1) (0.9,-0.6) (1.1,-1.45) (1.25,-0.3) (1.4,0.8) (1.53,1.5) (1.7,1.0) (1.97,0.85) (2.2,1.0) (2.4,0.95) (2.6,1.05) (2.84,1.1) (3.05,1.2) (3.3,1.35) (3.5,1.45) (3.7,1.55) (3.9,1.35) (4.15,1.05) (4.45,0.7) (4.72,0.45) (5.0,0.2) (5.24,0.1) (5.5,0.0) (5.7,-0.05) (5.95,-0.2) (6.2,-0.3) (6.45,-0.45) (6.7,-0.55) (6.95,-0.7) (7.2,-0.8) (7.4,-0.9) (7.6,-0.75) (7.86,-0.7)}
\node[chanB] (chF8b) at (1295.4,224.3) {F8};

% FC5
\erp{857}{328.3}{(-1,0.05) (-0.8,-0.1) (-0.6,0.05) (-0.4,-0.1) (-0.2,0.0) (0,-0.05) (0.3,0.05) (0.5,-0.1) (0.7,-0.05) (0.85,-0.5) (0.96,-0.9) (1.1,-0.7) (1.25,-0.1) (1.45,0.5) (1.66,0.9) (1.85,1.5) (2.1,2.15) (2.3,1.8) (2.53,1.3) (2.75,1.25) (3.06,1.35) (3.3,1.8) (3.58,2.15) (3.85,1.55) (4.15,0.9) (4.5,0.5) (4.8,0.25) (5.15,-0.1) (5.4,-0.55) (5.68,-1.05) (5.9,-1.4) (6.1,-1.7) (6.33,-2.0) (6.55,-2.25) (6.8,-2.2) (7.0,-2.15) (7.2,-2.3) (7.42,-2.25) (7.6,-2.1) (7.77,-2.1)}
{(-1,0.05) (-0.8,-0.1) (-0.6,0.05) (-0.4,-0.1) (-0.2,0.0) (0,-0.05) (0.3,0.05) (0.5,-0.1) (0.7,-0.05) (0.85,-0.45) (0.96,-0.85) (1.1,-0.65) (1.25,-0.1) (1.45,0.5) (1.66,0.9) (1.85,1.45) (2.1,2.1) (2.3,1.75) (2.53,1.25) (2.75,1.2) (3.06,1.3) (3.3,1.7) (3.58,2.05) (3.8,1.5) (4.0,1.05) (4.2,0.7) (4.45,0.4) (4.7,0.0) (5.0,-0.45) (5.24,-0.75) (5.5,-1.15) (5.76,-1.5) (6.05,-1.85) (6.33,-2.15) (6.55,-2.45) (6.77,-2.65) (7.0,-2.5) (7.2,-2.5) (7.5,-2.65) (7.65,-2.5) (7.77,-2.3)}
\node[chanB] (chFC5b) at (923,378.3) {FC5};

% FC6
\erp{1149}{328.3}{(-1,0.1) (-0.8,-0.05) (-0.6,0.1) (-0.4,-0.1) (-0.2,0.05) (0,-0.1) (0.2,0.0) (0.4,-0.2) (0.6,0.0) (0.8,-0.4) (0.96,-1.05) (1.15,-0.2) (1.3,0.0) (1.53,0.7) (1.8,1.4) (2.1,2.15) (2.3,1.95) (2.62,1.35) (2.85,1.5) (3.06,1.6) (3.3,2.05) (3.58,2.45) (3.85,1.85) (4.15,1.2) (4.5,0.7) (4.8,0.25) (5.05,0.0) (5.33,-0.3) (5.6,-0.75) (5.9,-1.2) (6.2,-1.55) (6.46,-1.85) (6.7,-2.1) (6.9,-2.4) (7.1,-2.25) (7.33,-2.25) (7.5,-2.45) (7.65,-2.2) (7.77,-2.15)}
{(-1,0.1) (-0.8,-0.05) (-0.6,0.1) (-0.4,-0.1) (-0.2,0.05) (0,-0.1) (0.2,0.0) (0.4,-0.2) (0.6,0.0) (0.8,-0.4) (0.96,-1.0) (1.15,-0.2) (1.3,0.0) (1.53,0.7) (1.8,1.4) (2.1,2.1) (2.3,1.9) (2.62,1.3) (2.85,1.45) (3.06,1.6) (3.3,2.2) (3.5,2.7) (3.71,3.05) (3.9,2.4) (4.2,1.35) (4.5,0.8) (4.8,0.2) (5.05,-0.05) (5.33,-0.35) (5.6,-0.85) (5.9,-1.35) (6.2,-1.75) (6.46,-2.1) (6.7,-2.35) (6.9,-2.55) (7.1,-2.5) (7.33,-2.45) (7.5,-2.5) (7.65,-2.35) (7.77,-2.35)}
\node[chanB] (chFC6b) at (1214.6,379.3) {FC6};

% T7
\erp{759}{490}{(-1,0.15) (-0.85,-0.05) (-0.7,0.1) (-0.55,-0.1) (-0.4,0.05) (-0.2,-0.15) (0,0.0) (0.2,-0.1) (0.45,-0.25) (0.7,-0.15) (0.96,-0.3) (1.2,-0.7) (1.49,-1.15) (1.65,-0.5) (1.85,0.3) (2.05,1.0) (2.25,0.95) (2.49,0.7) (2.7,0.85) (2.93,0.8) (3.1,0.95) (3.3,1.1) (3.5,1.3) (3.7,1.0) (4.0,0.65) (4.2,0.45) (4.45,0.3) (4.65,0.0) (4.89,-0.3) (5.1,-0.65) (5.33,-0.95) (5.55,-1.2) (5.76,-1.45) (6.0,-1.7) (6.2,-1.9) (6.4,-2.1) (6.64,-2.15) (6.85,-2.2) (7.0,-2.4) (7.15,-2.2) (7.3,-2.1) (7.5,-2.3) (7.65,-2.2) (7.86,-2.8)}
{(-1,0.15) (-0.85,-0.05) (-0.7,0.1) (-0.55,-0.1) (-0.4,0.05) (-0.2,-0.15) (0,0.0) (0.2,-0.1) (0.45,-0.25) (0.7,-0.15) (0.96,-0.3) (1.2,-0.65) (1.49,-1.1) (1.65,-0.5) (1.85,0.3) (2.05,0.95) (2.25,0.9) (2.49,0.65) (2.7,0.75) (2.93,0.7) (3.1,0.8) (3.3,0.95) (3.5,1.15) (3.7,0.9) (4.0,0.55) (4.2,0.2) (4.45,0.05) (4.65,-0.3) (4.89,-0.55) (5.1,-0.8) (5.33,-1.05) (5.55,-1.3) (5.76,-1.5) (6.0,-1.75) (6.2,-1.95) (6.4,-2.1) (6.64,-2.2) (6.85,-2.25) (7.0,-2.45) (7.15,-2.25) (7.3,-2.15) (7.5,-2.35) (7.65,-2.25) (7.86,-2.7)}
\node[chanB] (chT7b) at (824.2,536.7) {T7};

% C3
\erp{954}{490}{(-1,0.1) (-0.8,-0.05) (-0.6,0.1) (-0.4,-0.1) (-0.2,0.05) (0,-0.1) (0.3,0.05) (0.55,-0.1) (0.75,-0.3) (1.0,-0.72) (1.15,-0.4) (1.35,0.3) (1.66,0.95) (1.9,2.0) (2.18,3.25) (2.4,2.6) (2.75,1.7) (2.95,1.95) (3.2,2.4) (3.4,2.9) (3.62,3.25) (3.9,2.4) (4.2,1.6) (4.45,1.1) (4.72,0.65) (5.15,0.0) (5.4,-0.55) (5.7,-1.2) (6.0,-1.8) (6.25,-2.3) (6.5,-2.8) (6.7,-3.25) (6.9,-3.3) (7.1,-3.35) (7.25,-3.2) (7.42,-3.05) (7.55,-3.3) (7.7,-3.5) (7.86,-3.2)}
{(-1,0.1) (-0.8,-0.05) (-0.6,0.1) (-0.4,-0.1) (-0.2,0.05) (0,-0.1) (0.3,0.05) (0.55,-0.1) (0.75,-0.3) (1.0,-0.7) (1.15,-0.4) (1.35,0.25) (1.66,0.9) (1.9,2.0) (2.18,3.2) (2.4,2.6) (2.75,1.8) (2.95,2.1) (3.2,2.35) (3.45,3.1) (3.7,3.2) (3.95,2.35) (4.2,1.5) (4.45,1.0) (4.72,0.5) (5.05,-0.1) (5.4,-0.75) (5.7,-1.35) (6.0,-1.95) (6.25,-2.45) (6.5,-2.95) (6.7,-3.35) (6.9,-3.45) (7.1,-3.5) (7.3,-3.3) (7.5,-3.4) (7.7,-3.6) (7.86,-3.35)}
\node[chanB] (chC3b) at (1020.4,539) {C3};

% C4
\erp{1050}{490}{(-1,0.1) (-0.8,-0.05) (-0.6,0.1) (-0.4,-0.1) (-0.2,-0.05) (0,-0.2) (0.3,-0.1) (0.57,-0.35) (0.8,-0.3) (1.0,-0.88) (1.15,-0.45) (1.3,-0.5) (1.5,0.1) (1.75,1.6) (2.0,2.9) (2.18,3.4) (2.45,2.5) (2.75,1.6) (3.0,1.85) (3.28,2.25) (3.5,2.8) (3.76,3.25) (4.0,2.7) (4.28,2.05) (4.6,1.2) (4.93,0.3) (5.15,-0.1) (5.37,-0.5) (5.6,-0.95) (5.8,-1.45) (6.1,-1.8) (6.37,-2.25) (6.55,-2.6) (6.68,-3.1) (6.9,-3.25) (7.1,-3.35) (7.3,-3.15) (7.55,-3.2) (7.75,-3.3) (8.0,-3.25)}
{(-1,0.1) (-0.8,-0.05) (-0.6,0.1) (-0.4,-0.1) (-0.2,-0.05) (0,-0.2) (0.3,-0.1) (0.57,-0.35) (0.8,-0.3) (1.0,-0.85) (1.15,-0.45) (1.3,-0.5) (1.5,0.1) (1.75,1.6) (2.0,2.85) (2.18,3.35) (2.45,2.5) (2.75,1.65) (3.0,1.9) (3.28,2.25) (3.55,3.0) (3.84,3.9) (4.1,3.1) (4.5,2.2) (4.8,1.1) (5.05,0.2) (5.3,-0.4) (5.6,-0.95) (5.8,-1.4) (6.1,-1.8) (6.37,-2.25) (6.55,-2.65) (6.68,-3.2) (6.9,-3.4) (7.1,-3.45) (7.3,-3.3) (7.55,-3.35) (7.75,-3.4) (8.0,-3.15)}
\node[chanB] (chC4b) at (1113.5,536.7) {C4};

% T8
\erp{1245}{490}{(-1,0.15) (-0.85,-0.1) (-0.7,0.05) (-0.5,-0.2) (-0.3,0.0) (-0.1,-0.3) (0.1,-0.1) (0.22,-0.35) (0.4,-0.1) (0.66,-0.5) (0.85,-0.3) (1.1,-0.8) (1.3,-0.4) (1.5,-0.6) (1.75,-1.15) (1.9,-0.5) (2.1,0.45) (2.4,0.8) (2.6,0.9) (2.84,1.05) (3.05,1.2) (3.28,1.35) (3.5,1.5) (3.7,1.7) (3.95,1.95) (4.15,2.0) (4.3,1.75) (4.5,1.45) (4.75,1.0) (5.0,0.65) (5.2,0.3) (5.46,0.0) (5.7,-0.3) (5.9,-0.55) (6.1,-0.75) (6.33,-0.95) (6.55,-1.15) (6.77,-1.35) (7.0,-1.5) (7.2,-1.7) (7.35,-1.55) (7.5,-1.55) (7.65,-1.85) (7.8,-1.75) (7.95,-1.45)}
{(-1,0.15) (-0.85,-0.1) (-0.7,0.05) (-0.5,-0.2) (-0.3,0.0) (-0.1,-0.3) (0.1,-0.1) (0.22,-0.35) (0.4,-0.1) (0.66,-0.5) (0.85,-0.3) (1.1,-0.8) (1.3,-0.4) (1.5,-0.6) (1.75,-1.1) (1.9,-0.5) (2.1,0.4) (2.4,0.75) (2.6,0.85) (2.84,1.0) (3.05,1.15) (3.28,1.3) (3.5,1.55) (3.7,1.85) (3.93,2.55) (4.15,2.1) (4.3,1.8) (4.5,1.5) (4.75,1.1) (5.0,0.7) (5.2,0.25) (5.46,-0.1) (5.7,-0.45) (5.9,-0.75) (6.1,-0.95) (6.33,-1.1) (6.55,-1.3) (6.77,-1.55) (7.0,-1.8) (7.2,-2.05) (7.4,-2.15) (7.64,-2.25) (7.8,-2.1) (7.95,-1.9)}
\node[chanB] (chT8b) at (1305,546.7) {T8};

% CP5
\erp{857}{652.3}{(-1,0.1) (-0.85,-0.05) (-0.7,0.15) (-0.55,-0.1) (-0.4,-0.3) (-0.2,-0.15) (0,-0.35) (0.2,-0.25) (0.4,-0.4) (0.6,-0.2) (0.8,-0.3) (0.96,0.2) (1.1,-0.4) (1.3,-2.2) (1.53,-3.15) (1.7,-2.0) (1.83,-0.5) (2.0,0.8) (2.18,1.95) (2.4,1.7) (2.62,1.4) (2.8,1.55) (2.97,1.7) (3.15,1.85) (3.28,1.95) (3.5,2.5) (3.7,3.0) (3.95,2.5) (4.28,1.65) (4.5,0.9) (4.8,0.05) (5.0,-0.55) (5.24,-1.2) (5.5,-1.75) (5.76,-2.2) (6.0,-2.5) (6.2,-2.85) (6.45,-3.2) (6.64,-3.45) (6.9,-3.8) (7.05,-3.6) (7.2,-3.55) (7.35,-3.35) (7.5,-3.2) (7.65,-3.5) (7.77,-3.7)}
{(-1,0.1) (-0.85,-0.05) (-0.7,0.15) (-0.55,-0.1) (-0.4,-0.3) (-0.2,-0.15) (0,-0.35) (0.2,-0.25) (0.4,-0.4) (0.6,-0.2) (0.8,-0.3) (0.96,0.45) (1.1,-0.3) (1.3,-2.1) (1.53,-3.1) (1.7,-2.0) (1.83,-0.5) (2.0,0.9) (2.18,2.15) (2.4,1.8) (2.62,1.45) (2.8,1.65) (2.97,1.75) (3.15,1.9) (3.3,2.05) (3.5,2.55) (3.7,3.0) (3.95,2.6) (4.3,1.7) (4.55,0.9) (4.85,0.05) (5.1,-0.7) (5.35,-1.25) (5.6,-1.8) (5.9,-2.35) (6.2,-2.8) (6.5,-3.2) (6.75,-3.45) (6.9,-3.55) (7.1,-3.4) (7.3,-3.45) (7.5,-3.35) (7.77,-3.35)}
\node[chanB] (chCP5b) at (926.9,695) {CP5};

% CP6
\erp{1149}{652.3}{(-1,0.15) (-0.85,-0.1) (-0.7,0.0) (-0.5,-0.25) (-0.3,-0.15) (-0.1,-0.35) (0.1,-0.2) (0.25,-0.4) (0.44,-0.35) (0.6,0.0) (0.8,-0.2) (1.0,-0.1) (1.2,-1.5) (1.35,-3.0) (1.53,-3.85) (1.7,-2.0) (1.83,-0.3) (2.0,1.2) (2.18,1.8) (2.4,1.7) (2.62,1.55) (2.85,1.65) (3.06,1.75) (3.3,2.0) (3.5,2.2) (3.75,2.7) (4.0,3.05) (4.2,2.6) (4.45,1.95) (4.7,1.0) (4.9,0.2) (5.1,-0.4) (5.33,-0.9) (5.6,-1.2) (5.9,-1.55) (6.1,-1.95) (6.33,-2.35) (6.55,-2.6) (6.77,-2.85) (6.95,-2.7) (7.07,-2.6) (7.25,-2.65) (7.42,-2.7) (7.6,-2.55) (7.77,-2.45)}
{(-1,0.15) (-0.85,-0.1) (-0.7,0.0) (-0.5,-0.25) (-0.3,-0.15) (-0.1,-0.35) (0.1,-0.2) (0.25,-0.4) (0.44,-0.35) (0.6,0.0) (0.8,-0.2) (1.0,-0.1) (1.2,-1.5) (1.35,-3.0) (1.53,-3.8) (1.7,-2.0) (1.83,-0.3) (2.0,1.1) (2.18,1.75) (2.4,1.65) (2.62,1.5) (2.85,1.6) (3.06,1.8) (3.3,2.1) (3.55,2.5) (3.75,3.0) (3.93,3.4) (4.15,2.8) (4.45,2.0) (4.7,1.0) (4.95,0.05) (5.2,-0.75) (5.45,-1.4) (5.7,-1.9) (5.9,-2.05) (6.1,-2.4) (6.33,-2.85) (6.5,-3.25) (6.68,-3.55) (6.85,-3.6) (7.0,-3.65) (7.2,-3.5) (7.4,-3.3) (7.6,-3.15) (7.77,-3.0)}
\node[chanB] (chCP6b) at (1216.5,696.7) {CP6};

% P7
\erp{759}{815.7}{(-1,0.1) (-0.85,-0.1) (-0.7,0.0) (-0.55,-0.2) (-0.44,-0.2) (-0.3,-0.05) (-0.1,-0.2) (0.15,-0.3) (0.35,-0.35) (0.5,-0.3) (0.66,-0.15) (0.85,0.8) (1.1,2.05) (1.25,0.5) (1.4,-4.0) (1.53,-7.7) (1.66,-4.0) (1.8,0.0) (2.05,1.5) (2.3,2.3) (2.5,1.6) (2.75,0.95) (2.9,1.1) (3.06,1.15) (3.2,0.85) (3.4,1.3) (3.7,2.35) (3.9,2.2) (4.15,2.1) (4.4,1.7) (4.6,1.15) (4.8,0.5) (5.0,-0.25) (5.2,-0.65) (5.46,-1.05) (5.7,-1.6) (5.9,-2.05) (6.1,-2.35) (6.33,-2.65) (6.5,-2.9) (6.68,-3.15) (6.85,-3.15) (7.0,-3.4) (7.15,-3.1) (7.3,-3.1) (7.45,-2.95) (7.6,-3.0) (7.75,-2.7) (7.86,-2.75)}
{(-1,0.1) (-0.85,-0.1) (-0.7,0.0) (-0.55,-0.2) (-0.44,-0.2) (-0.3,-0.05) (-0.1,-0.2) (0.15,-0.3) (0.35,-0.35) (0.5,-0.3) (0.66,-0.15) (0.85,0.8) (1.1,2.0) (1.25,0.5) (1.4,-4.0) (1.53,-7.7) (1.66,-4.0) (1.8,0.0) (2.05,1.45) (2.3,2.25) (2.5,1.55) (2.75,0.9) (2.9,1.1) (3.06,1.15) (3.3,1.3) (3.6,2.1) (3.93,2.85) (4.2,2.2) (4.45,1.5) (4.7,0.6) (4.95,-0.15) (5.2,-0.6) (5.45,-0.95) (5.68,-1.25) (5.9,-1.6) (6.1,-1.8) (6.3,-2.05) (6.55,-2.3) (6.8,-2.45) (7.0,-2.6) (7.2,-2.45) (7.42,-2.35) (7.6,-2.2) (7.75,-2.0) (7.86,-1.8)}
\node[chanB] (chP7b) at (822.3,851) {P7};

% P3
\erp{954}{815.7}{(-1,0.1) (-0.85,-0.05) (-0.7,0.1) (-0.5,-0.15) (-0.3,-0.1) (-0.1,-0.3) (0.1,-0.25) (0.35,-0.35) (0.55,-0.2) (0.8,0.1) (1.0,0.5) (1.15,-0.5) (1.35,-3.0) (1.62,-4.2) (1.8,-2.0) (1.95,0.3) (2.1,2.0) (2.3,3.15) (2.5,2.5) (2.75,1.75) (2.95,2.1) (3.2,2.45) (3.4,3.1) (3.62,3.7) (3.85,3.3) (4.06,2.95) (4.3,2.4) (4.5,1.8) (4.8,0.95) (5.07,0.2) (5.35,-0.45) (5.6,-1.05) (5.8,-1.5) (6.03,-1.95) (6.25,-2.5) (6.46,-2.95) (6.7,-3.15) (6.9,-3.25) (7.1,-3.1) (7.25,-3.1) (7.4,-2.85) (7.55,-2.95) (7.7,-2.9) (7.86,-2.85)}
{(-1,0.1) (-0.85,-0.05) (-0.7,0.1) (-0.5,-0.15) (-0.3,-0.1) (-0.1,-0.3) (0.1,-0.25) (0.35,-0.35) (0.55,-0.2) (0.8,0.1) (1.0,0.6) (1.15,-0.5) (1.35,-3.0) (1.62,-4.2) (1.8,-2.0) (1.95,0.3) (2.1,1.95) (2.3,3.1) (2.5,2.4) (2.75,1.7) (2.95,2.05) (3.2,2.45) (3.45,3.25) (3.76,4.1) (4.0,3.6) (4.3,2.8) (4.6,1.75) (4.9,0.7) (5.15,-0.05) (5.45,-0.85) (5.8,-1.6) (6.05,-2.0) (6.24,-2.1) (6.45,-2.45) (6.68,-2.85) (6.9,-2.95) (7.1,-2.9) (7.3,-2.75) (7.5,-2.7) (7.7,-2.55) (7.86,-2.45)}
\node[chanB] (chP3b) at (1016.5,856.7) {P3};

% P4
\erp{1050}{815.7}{(-1,0.15) (-0.85,-0.05) (-0.7,0.0) (-0.5,-0.3) (-0.3,-0.35) (-0.1,-0.5) (0.1,-0.35) (0.3,-0.55) (0.57,-0.6) (0.75,-0.35) (0.9,0.1) (1.05,-0.3) (1.3,-2.5) (1.66,-5.3) (1.85,-2.5) (2.0,0.5) (2.15,2.0) (2.3,3.0) (2.55,2.4) (2.84,1.7) (3.05,2.0) (3.32,2.45) (3.55,2.9) (3.76,3.25) (4.0,3.3) (4.28,3.25) (4.5,2.8) (4.7,2.3) (4.9,1.6) (5.07,1.0) (5.3,0.5) (5.5,0.05) (5.7,-0.5) (5.94,-1.0) (6.15,-1.2) (6.37,-1.4) (6.6,-2.0) (6.8,-2.5) (7.0,-2.25) (7.2,-2.2) (7.4,-2.45) (7.55,-2.45) (7.75,-2.0) (8.0,-1.7)}
{(-1,0.15) (-0.85,-0.05) (-0.7,0.0) (-0.5,-0.3) (-0.3,-0.35) (-0.1,-0.5) (0.1,-0.35) (0.3,-0.55) (0.57,-0.6) (0.75,-0.35) (0.9,0.3) (1.05,-0.3) (1.3,-2.5) (1.66,-5.3) (1.85,-2.5) (2.0,0.5) (2.15,1.95) (2.3,2.95) (2.55,2.35) (2.84,1.65) (3.05,1.95) (3.32,2.45) (3.6,3.1) (3.85,3.6) (4.06,3.9) (4.3,3.45) (4.5,2.9) (4.75,2.1) (4.95,1.4) (5.15,0.7) (5.4,0.0) (5.6,-0.5) (5.94,-1.8) (6.15,-2.3) (6.37,-2.7) (6.6,-3.0) (6.8,-3.3) (7.0,-3.3) (7.25,-3.25) (7.45,-3.2) (7.7,-3.0) (8.0,-2.45)}
\node[chanB] (chP4b) at (1115.8,857.7) {P4};

% P8
\erp{1245}{815.7}{(-1,0.2) (-0.85,0.0) (-0.7,0.1) (-0.5,-0.2) (-0.3,-0.1) (-0.1,-0.35) (0.1,-0.2) (0.3,-0.45) (0.52,-0.6) (0.7,-0.2) (0.9,0.6) (1.14,2.2) (1.3,0.0) (1.45,-4.5) (1.66,-8.9) (1.8,-4.0) (1.95,-0.5) (2.1,0.8) (2.27,1.5) (2.5,1.55) (2.75,1.6) (3.06,1.8) (3.2,1.85) (3.4,1.95) (3.55,2.1) (3.7,2.3) (3.85,2.9) (4.0,3.65) (4.2,3.2) (4.37,2.75) (4.6,1.8) (4.8,1.0) (5.0,0.55) (5.24,0.2) (5.45,-0.45) (5.68,-1.15) (5.85,-1.15) (6.03,-1.25) (6.25,-1.7) (6.46,-2.2) (6.65,-2.0) (6.9,-1.95) (7.05,-2.15) (7.2,-2.1) (7.35,-1.8) (7.5,-1.55) (7.7,-1.3) (7.86,-1.0)}
{(-1,0.2) (-0.85,0.0) (-0.7,0.1) (-0.5,-0.2) (-0.3,-0.1) (-0.1,-0.35) (0.1,-0.2) (0.3,-0.45) (0.52,-0.6) (0.7,-0.2) (0.9,0.6) (1.14,2.15) (1.3,0.0) (1.45,-4.5) (1.66,-8.9) (1.8,-4.0) (1.95,-0.5) (2.1,0.8) (2.27,1.45) (2.5,1.5) (2.75,1.55) (3.06,1.75) (3.3,1.9) (3.5,2.05) (3.7,2.25) (3.85,2.85) (4.0,3.6) (4.2,3.15) (4.37,2.7) (4.6,1.6) (4.8,0.85) (5.0,0.4) (5.2,-0.05) (5.45,-0.9) (5.76,-2.05) (6.0,-2.5) (6.2,-2.85) (6.45,-3.1) (6.64,-3.25) (6.85,-3.25) (7.07,-3.35) (7.25,-3.2) (7.42,-2.85) (7.6,-2.5) (7.86,-2.05)}
\node[chanB] (chP8b) at (1310,864) {P8};

% OL
\erp{857}{977.3}{(-1,0.1) (-0.85,-0.1) (-0.7,0.0) (-0.5,-0.25) (-0.3,-0.1) (-0.1,-0.35) (0.1,-0.2) (0.22,-0.35) (0.4,-0.25) (0.6,-0.1) (0.75,0.5) (0.96,3.25) (1.1,1.0) (1.3,-4.0) (1.53,-9.95) (1.7,-4.0) (1.85,0.5) (2.1,3.25) (2.3,2.4) (2.53,1.75) (2.7,1.4) (2.84,1.3) (3.06,1.25) (3.25,1.8) (3.5,2.3) (3.7,2.35) (3.84,2.2) (4.05,1.75) (4.28,1.25) (4.55,0.55) (4.8,-0.2) (5.0,-0.5) (5.24,-0.85) (5.45,-1.3) (5.68,-1.8) (5.9,-2.0) (6.1,-2.25) (6.35,-2.45) (6.55,-2.75) (6.75,-2.7) (6.9,-2.95) (7.05,-2.7) (7.2,-2.5) (7.35,-2.45) (7.5,-2.35) (7.65,-2.1) (7.77,-1.85)}
{(-1,0.1) (-0.85,-0.1) (-0.7,0.0) (-0.5,-0.25) (-0.3,-0.1) (-0.1,-0.35) (0.1,-0.2) (0.22,-0.35) (0.4,-0.25) (0.6,-0.1) (0.75,0.5) (0.96,3.2) (1.1,1.0) (1.3,-4.0) (1.53,-9.95) (1.7,-4.0) (1.85,0.5) (2.1,3.2) (2.3,2.3) (2.53,1.65) (2.7,1.35) (2.84,1.25) (3.06,1.2) (3.3,1.85) (3.5,2.4) (3.7,2.8) (3.9,2.5) (4.1,2.0) (4.28,1.5) (4.5,0.9) (4.8,0.1) (5.0,-0.3) (5.24,-0.65) (5.5,-0.95) (5.76,-1.3) (6.0,-1.55) (6.2,-1.8) (6.45,-1.95) (6.64,-2.1) (6.85,-1.95) (7.05,-1.9) (7.25,-1.7) (7.42,-1.6) (7.6,-1.3) (7.77,-0.9)}
\node[chanB] (chOLb) at (922.3,1033.3) {OL};

% OR
\erp{1149}{977.3}{(-1,0.2) (-0.85,0.0) (-0.7,0.05) (-0.5,-0.3) (-0.3,-0.25) (-0.1,-0.45) (0.09,-0.6) (0.25,-0.55) (0.44,-0.5) (0.6,-0.1) (0.75,0.6) (0.96,2.9) (1.1,0.8) (1.3,-4.5) (1.53,-10.5) (1.72,-4.0) (1.9,0.5) (2.1,2.3) (2.3,2.0) (2.53,1.75) (2.75,1.5) (2.97,1.4) (3.2,1.8) (3.4,1.65) (3.58,1.85) (3.75,2.1) (3.93,2.5) (4.1,2.2) (4.28,1.85) (4.5,1.2) (4.72,0.6) (5.0,0.1) (5.24,-0.35) (5.45,-0.85) (5.68,-1.3) (5.9,-1.5) (6.2,-1.8) (6.4,-1.7) (6.55,-1.9) (6.75,-1.55) (6.9,-1.45) (7.05,-1.55) (7.2,-1.65) (7.35,-1.35) (7.5,-1.15) (7.65,-0.8) (7.77,-0.2)}
{(-1,0.2) (-0.85,0.0) (-0.7,0.05) (-0.5,-0.3) (-0.3,-0.25) (-0.1,-0.45) (0.09,-0.6) (0.25,-0.55) (0.44,-0.5) (0.6,-0.1) (0.75,0.6) (0.96,2.85) (1.1,0.8) (1.3,-4.5) (1.53,-10.5) (1.72,-4.0) (1.9,0.5) (2.1,2.25) (2.3,1.95) (2.53,1.7) (2.75,1.45) (2.97,1.4) (3.2,1.75) (3.5,1.95) (3.75,2.25) (3.93,2.45) (4.15,2.1) (4.4,1.65) (4.6,0.9) (4.8,0.15) (5.0,-0.45) (5.24,-1.15) (5.45,-1.75) (5.6,-2.1) (5.8,-2.4) (6.03,-2.6) (6.3,-2.75) (6.55,-2.85) (6.8,-2.85) (7.0,-2.75) (7.2,-2.7) (7.33,-2.35) (7.5,-2.0) (7.64,-1.5) (7.77,-0.85)}
\node[chanB] (chORb) at (1218.5,1033.3) {OR};

% key B
\draw[keybox] (937,589.3) rectangle (1127.5,665);
\coordinate (kB1) at (947,614);
\coordinate (kB2) at (1007.5,614);
\coordinate (kB3) at (947,639);
\coordinate (kB4) at (1007.5,639);
\draw[attleft] (kB1) -- (kB2);
\draw[attright] (kB3) -- (kB4);
\node[chanA, anchor=base west] (keyLb) at (1020.5,623) {Attend Left};
\node[chanA, anchor=base west] (keyRb) at (1017,646) {Attend Right};

\node[inner sep=0pt, font=\fontsize{19}{21}\selectfont] (tagB) at (1046,1012.7) {(B)};

\end{tikzpicture}
\end{document}
